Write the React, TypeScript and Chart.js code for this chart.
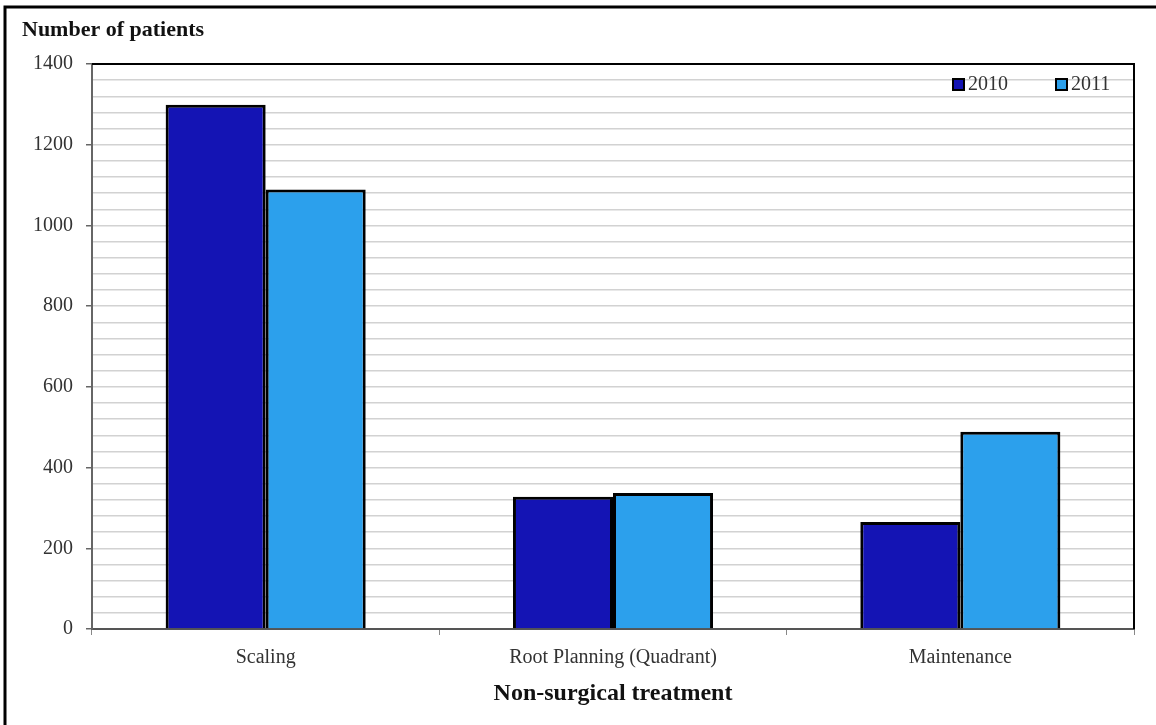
import React, { useEffect, useRef } from "react";
import { Chart, registerables } from "chart.js";

Chart.register(...registerables);

const categories = ["Scaling", "Root Planning (Quadrant)", "Maintenance"];
const seriesLabels = ["2010", "2011"];
const values2010 = [1299, 328, 265];
const values2011 = [1089, 337, 489];
const colors = ["#1414B4", "#2CA0EC"];
const yTitle = "Number of patients";
const xTitle = "Non-surgical treatment";

const FONT = "'Liberation Serif', 'Times New Roman', serif";

const overlayPlugin = {
  id: "overlay",
  beforeDraw(chart: any) {
    const ctx = chart.ctx;
    ctx.save();
    ctx.fillStyle = "#ffffff";
    ctx.fillRect(0, 0, chart.width, chart.height);
    ctx.restore();
  },
  afterDraw(chart: any) {
    const ctx = chart.ctx;
    const a = chart.chartArea;
    ctx.save();
    // outer frame
    ctx.strokeStyle = "#000";
    ctx.lineWidth = 3;
    ctx.beginPath();
    ctx.moveTo(5, chart.height + 5);
    ctx.lineTo(5, 7);
    ctx.lineTo(chart.width + 5, 7);
    ctx.stroke();
    // plot frame top & right
    ctx.lineWidth = 2;
    ctx.beginPath();
    ctx.moveTo(a.left, a.top);
    ctx.lineTo(a.right, a.top);
    ctx.lineTo(a.right, a.bottom);
    ctx.stroke();
    // title
    ctx.fillStyle = "#111";
    ctx.font = `bold 22px ${FONT}`;
    ctx.textBaseline = "middle";
    ctx.textAlign = "left";
    ctx.fillText(yTitle, 22, 30);
    // legend
    const items = chart.data.datasets;
    const xs = [953, 1056];
    ctx.font = `20px ${FONT}`;
    items.forEach((ds: any, i: number) => {
      const x = xs[i];
      const y = 79;
      ctx.fillStyle = ds.backgroundColor;
      ctx.fillRect(x, y, 11, 11);
      ctx.strokeStyle = "#000";
      ctx.lineWidth = 2;
      ctx.strokeRect(x, y, 11, 11);
      ctx.fillStyle = "#333";
      ctx.fillText(ds.label, x + 15, y + 6);
    });
    ctx.restore();
  },
};

export default function App() {
  const ref = useRef<HTMLCanvasElement>(null);
  useEffect(() => {
    if (!ref.current) return;
    const chart = new Chart(ref.current, {
      type: "bar",
      data: {
        labels: categories,
        datasets: [
          {
            label: seriesLabels[0],
            data: values2010,
            backgroundColor: colors[0],
            borderColor: "#000",
            borderWidth: 3,
            borderSkipped: "bottom",
            categoryPercentage: 0.576,
            barPercentage: 1,
          },
          {
            label: seriesLabels[1],
            data: values2011,
            backgroundColor: colors[1],
            borderColor: "#000",
            borderWidth: 3,
            borderSkipped: "bottom",
            categoryPercentage: 0.576,
            barPercentage: 1,
          },
        ],
      },
      options: {
        responsive: false,
        animation: false,
        layout: { padding: { top: 64, right: 22, left: 0, bottom: 0 } },
        plugins: {
          legend: { display: false },
          tooltip: { enabled: false },
        },
        scales: {
          x: {
            offset: true,
            grid: {
              offset: true,
              drawOnChartArea: false,
              drawTicks: true,
              tickLength: 6,
              color: "#888",
            },
            border: { color: "#555", width: 2 },
            ticks: {
              color: "#333",
              font: { family: FONT, size: 20 },
              padding: 11,
            },
            title: {
              display: true,
              text: xTitle,
              color: "#111",
              font: { family: FONT, size: 24, weight: "bold" },
              padding: { top: 8, bottom: 17 },
            },
            afterFit(scale: any) {
              scale.height = 96;
            },
          },
          y: {
            min: 0,
            max: 1400,
            ticks: {
              stepSize: 40,
              autoSkip: false,
              color: "#333",
              font: { family: FONT, size: 20 },
              padding: 13,
              callback: (v: any) => (Number(v) % 200 === 0 ? String(v) : ""),
            },
            grid: {
              color: "#d2d2d2",
              lineWidth: 1.5,
              tickLength: 6,
              tickColor: (c: any) =>
                c.tick && c.tick.value % 200 === 0 ? "#666" : "rgba(0,0,0,0)",
            },
            border: { color: "#666", width: 2 },
            afterFit(scale: any) {
              scale.width = 92;
            },
          },
        },
      },
      plugins: [overlayPlugin],
    });
    return () => chart.destroy();
  }, []);
  return (
    <div style={{ position: "fixed", left: 0, top: 0, width: 1156, height: 725 }}>
      <canvas ref={ref} width={1156} height={725} style={{ display: "block" }} />
    </div>
  );
}
